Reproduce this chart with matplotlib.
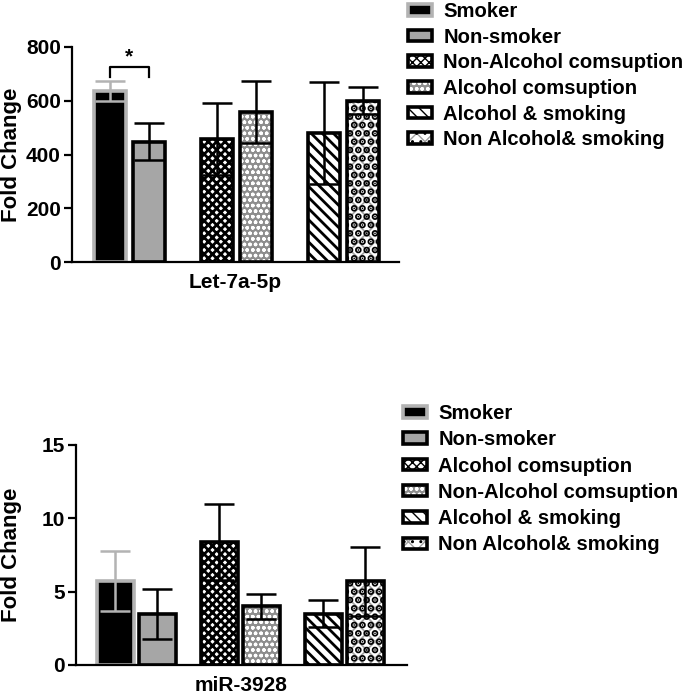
import matplotlib
matplotlib.use("Agg")
import matplotlib.pyplot as plt
import numpy as np

plt.rcParams['font.family'] = ['Liberation Sans', 'DejaVu Sans']
plt.rcParams['font.weight'] = 'bold'

# ---------------- data ----------------
top_gene = "Let-7a-5p"
top_labels = ["Smoker", "Non-smoker", "Non-Alcohol comsuption", "Alcohol comsuption",
              "Alcohol & smoking", "Non Alcohol& smoking"]
top_means = [636, 448, 457, 558, 480, 600]
top_errs = [37, 70, 135, 117, 190, 50]

bot_gene = "miR-3928"
bot_labels = ["Smoker", "Non-smoker", "Alcohol comsuption", "Non-Alcohol comsuption",
              "Alcohol & smoking", "Non Alcohol& smoking"]
bot_means = [5.7, 3.5, 8.4, 4.0, 3.5, 5.7]
bot_errs = [2.05, 1.7, 2.6, 0.85, 0.9, 2.35]

W, H = 691, 697
fig = plt.figure(figsize=(W/100, H/100), dpi=100)
FS = 15
LFS = 14.6

def ax_at(x0, y0, x1, y1):
    return fig.add_axes([x0/W, 1 - y0/H, (x1-x0)/W, (y0-y1)/H])

styles = [
    dict(face='black', hatch='', hc='black', hlw=1, over='', olw=1, edge='#b3b3b3', err='#b3b3b3'),
    dict(face='#a6a6a6', hatch='', hc='black', hlw=1, over='', olw=1, edge='black', err='black'),
    dict(face='white', hatch='xxxx', hc='black', hlw=2.0, over='', olw=1, edge='black', err='black'),
    dict(face='#8e8e8e', hatch='ooo', hc='white', hlw=1.0, over='', olw=1, edge='black', err='black'),
    dict(face='white', hatch='\\\\\\', hc='black', hlw=2.0, over='', olw=1, edge='black', err='black'),
    dict(face='white', hatch='xx', hc='#a0a0a0', hlw=1.2, over='..', olw=3.5, edge='black', err='black'),
]

def draw(ax, means, errs, labels, gap, width, ylim, yticks, gene):
    x = np.array([0, 1, gap, gap + 1, 2*gap, 2*gap + 1], dtype=float)
    handles = []
    for i in range(6):
        s = styles[i]
        with plt.rc_context({'hatch.linewidth': s['hlw']}):
            base = ax.bar(x[i], means[i], width=width, color=s['face'], edgecolor=s['hc'],
                          linewidth=0, hatch=s['hatch'], zorder=2)
        with plt.rc_context({'hatch.linewidth': s['olw']}):
            top = ax.bar(x[i], means[i], width=width, fill=False, edgecolor=s['edge'],
                         linewidth=2.6, hatch=s['over'] or None, zorder=2.5)
        ax.errorbar(x[i], means[i], yerr=errs[i], color=s['err'], capsize=11,
                    elinewidth=1.8, capthick=1.8, zorder=3, fmt='none')
        handles.append((base[0], top[0]))
    ax.set_ylim(*ylim)
    ax.set_yticks(yticks)
    ax.set_xticks([])
    ax.spines['top'].set_visible(False)
    ax.spines['right'].set_visible(False)
    ax.spines['left'].set_linewidth(1.6)
    ax.spines['bottom'].set_linewidth(1.6)
    ax.tick_params(axis='y', width=1.6, length=6, labelsize=FS, pad=2)
    for t in ax.get_yticklabels():
        t.set_fontweight('bold')
    ax.set_ylabel("Fold Change", fontsize=FS + 1, fontweight='bold')
    ax.set_xlabel(gene, fontsize=FS, fontweight='bold', labelpad=8)
    return x, handles

# top chart
ax1 = ax_at(72, 262, 399, 47)
x1, h1 = draw(ax1, top_means, top_errs, top_labels, 2.78, 0.83, (0, 800),
              [0, 200, 400, 600, 800], top_gene)
ax1.set_xlim(-0.99, 7.5)
ax1.yaxis.set_label_coords(-0.153, 0.5)
ax1.plot([x1[0], x1[0], x1[1], x1[1]], [688, 726, 726, 688], color='black', lw=1.6,
         clip_on=False)
ax1.text((x1[0]+x1[1])/2, 728, "*", ha='center', va='bottom', fontsize=FS, fontweight='bold')
ax1.legend(h1, top_labels, loc='upper left', bbox_to_anchor=(408/W, 1 - 2/H),
           bbox_transform=fig.transFigure, frameon=False, fontsize=LFS,
           handlelength=1.2, handleheight=0.5, labelspacing=0.33, handletextpad=0.55,
           borderaxespad=0, borderpad=0)

# bottom chart
ax2 = ax_at(76, 665, 407, 445)
x2, h2 = draw(ax2, bot_means, bot_errs, bot_labels, 2.48, 0.88, (0, 15),
              [0, 5, 10, 15], bot_gene)
ax2.set_xlim(-0.93, 6.95)
ax2.yaxis.set_label_coords(-0.163, 0.5)
ax2.legend(h2, bot_labels, loc='upper left', bbox_to_anchor=(403/W, 1 - 404/H),
           bbox_transform=fig.transFigure, frameon=False, fontsize=LFS,
           handlelength=1.2, handleheight=0.5, labelspacing=0.36, handletextpad=0.55,
           borderaxespad=0, borderpad=0)

fig.savefig("out.png", dpi=100)
